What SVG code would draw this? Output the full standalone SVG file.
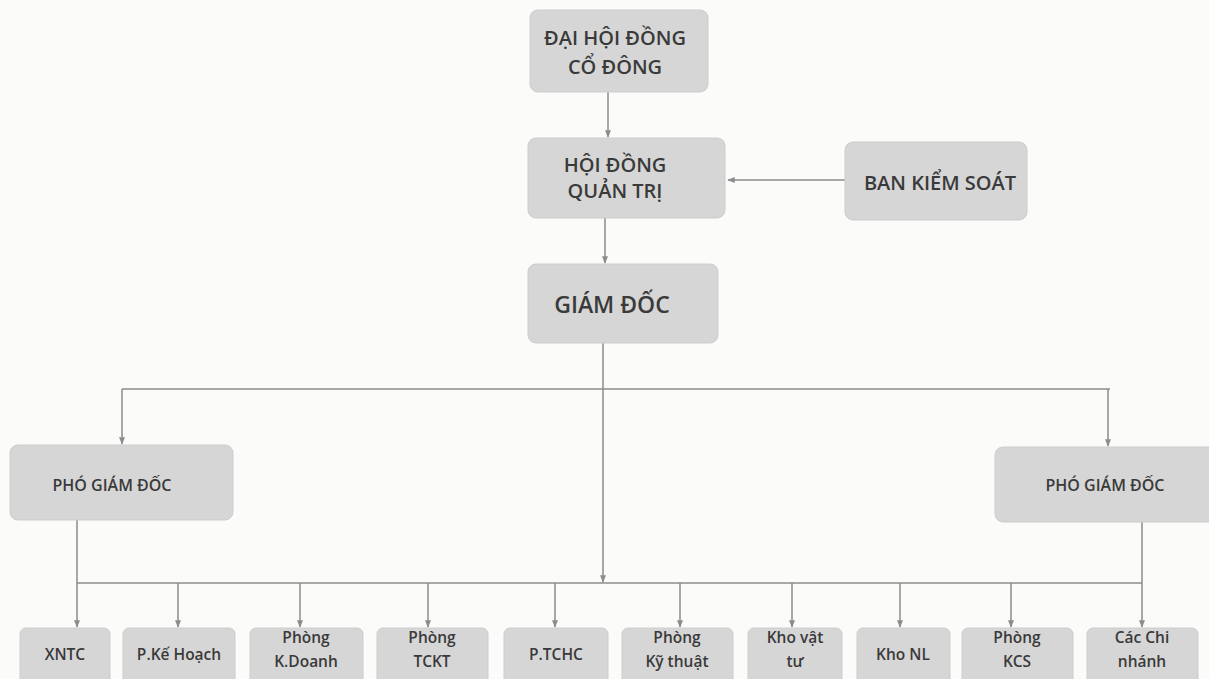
<svg xmlns="http://www.w3.org/2000/svg" width="1209" height="679" viewBox="0 0 1209 679">
<defs>
<style>
.box{fill:#d6d6d6;stroke:#cdcdcd;stroke-width:1}
.t{font-family:"Open Sans","Noto Sans","Liberation Sans",sans-serif;fill:#3a3a3a;text-anchor:middle;font-weight:600}
.big{font-size:20px}
.gd{font-size:23px}
.pgd{font-size:16px}
.sm{font-size:15.5px}
.ln{stroke:#8c8c8c;stroke-width:1.5;fill:none}
</style>
<marker id="ah" viewBox="0 0 10 10" refX="9" refY="5" markerWidth="5" markerHeight="5" orient="auto">
<path d="M0,1 L10,5 L0,9 z" fill="#8c8c8c"/>
</marker>
</defs>
<rect width="1209" height="679" fill="#fbfbf9"/>

<g id="connectors">
<line class="ln" x1="608" y1="92" x2="608" y2="137" marker-end="url(#ah)"/>
<line class="ln" x1="605" y1="218" x2="605" y2="263" marker-end="url(#ah)"/>
<line class="ln" x1="845" y1="180" x2="728" y2="180" marker-end="url(#ah)"/>
<line class="ln" x1="603" y1="343" x2="603" y2="582" marker-end="url(#ah)"/>
<line class="ln" x1="122" y1="389" x2="1110" y2="389"/>
<line class="ln" x1="122" y1="389" x2="122" y2="444" marker-end="url(#ah)"/>
<line class="ln" x1="1108" y1="389" x2="1108" y2="446" marker-end="url(#ah)"/>
<line class="ln" x1="77" y1="583" x2="1142" y2="583"/>
<line class="ln" x1="77" y1="520" x2="77" y2="627" marker-end="url(#ah)"/>
<line class="ln" x1="1142" y1="522" x2="1142" y2="627" marker-end="url(#ah)"/>
<line class="ln" x1="178" y1="583" x2="178" y2="627" marker-end="url(#ah)"/>
<line class="ln" x1="300" y1="583" x2="300" y2="627" marker-end="url(#ah)"/>
<line class="ln" x1="428" y1="583" x2="428" y2="627" marker-end="url(#ah)"/>
<line class="ln" x1="555" y1="583" x2="555" y2="627" marker-end="url(#ah)"/>
<line class="ln" x1="680" y1="583" x2="680" y2="627" marker-end="url(#ah)"/>
<line class="ln" x1="792" y1="583" x2="792" y2="627" marker-end="url(#ah)"/>
<line class="ln" x1="900" y1="583" x2="900" y2="627" marker-end="url(#ah)"/>
<line class="ln" x1="1011" y1="583" x2="1011" y2="627" marker-end="url(#ah)"/>
</g>

<g id="dhdcd">
<rect class="box" x="530" y="10" width="178" height="82" rx="8"/>
<text class="t big" x="615" y="45">ĐẠI HỘI ĐỒNG</text>
<text class="t big" x="615" y="74">CỔ ĐÔNG</text>
</g>
<g id="hdqt">
<rect class="box" x="528" y="138" width="197" height="80" rx="8"/>
<text class="t big" x="615" y="172">HỘI ĐỒNG</text>
<text class="t big" x="615" y="198">QUẢN TRỊ</text>
</g>
<g id="bks">
<rect class="box" x="845" y="142" width="182" height="78" rx="8"/>
<text class="t big" x="940" y="190">BAN KIỂM SOÁT</text>
</g>
<g id="gd">
<rect class="box" x="528" y="264" width="190" height="79" rx="8"/>
<text class="t gd" x="612" y="313">GIÁM ĐỐC</text>
</g>
<g id="pgd1">
<rect class="box" x="10" y="445" width="223" height="75" rx="8"/>
<text class="t pgd" x="112" y="491">PHÓ GIÁM ĐỐC</text>
</g>
<g id="pgd2">
<rect class="box" x="995" y="447" width="225" height="75" rx="8"/>
<text class="t pgd" x="1105" y="491">PHÓ GIÁM ĐỐC</text>
</g>

<g id="xntc"><rect class="box" x="20" y="628" width="90" height="62" rx="6"/><text class="t sm" x="65" y="660">XNTC</text></g>
<g id="pkh"><rect class="box" x="123" y="628" width="112" height="62" rx="6"/><text class="t sm" x="179" y="660">P.Kế Hoạch</text></g>
<g id="pkd"><rect class="box" x="250" y="628" width="113" height="62" rx="6"/><text class="t sm" x="306" y="643">Phòng</text><text class="t sm" x="306" y="667">K.Doanh</text></g>
<g id="ptckt"><rect class="box" x="377" y="628" width="111" height="62" rx="6"/><text class="t sm" x="432" y="643">Phòng</text><text class="t sm" x="432" y="667">TCKT</text></g>
<g id="ptchc"><rect class="box" x="504" y="628" width="104" height="62" rx="6"/><text class="t sm" x="556" y="660">P.TCHC</text></g>
<g id="pkt"><rect class="box" x="622" y="628" width="111" height="62" rx="6"/><text class="t sm" x="677" y="643">Phòng</text><text class="t sm" x="677" y="667">Kỹ thuật</text></g>
<g id="kvt"><rect class="box" x="748" y="628" width="94" height="62" rx="6"/><text class="t sm" x="795" y="643">Kho vật</text><text class="t sm" x="795" y="667">tư</text></g>
<g id="knl"><rect class="box" x="857" y="628" width="93" height="62" rx="6"/><text class="t sm" x="903" y="660">Kho NL</text></g>
<g id="pkcs"><rect class="box" x="962" y="628" width="111" height="62" rx="6"/><text class="t sm" x="1017" y="643">Phòng</text><text class="t sm" x="1017" y="667">KCS</text></g>
<g id="ccn"><rect class="box" x="1087" y="628" width="111" height="62" rx="6"/><text class="t sm" x="1142" y="643">Các Chi</text><text class="t sm" x="1142" y="667">nhánh</text></g>
</svg>
